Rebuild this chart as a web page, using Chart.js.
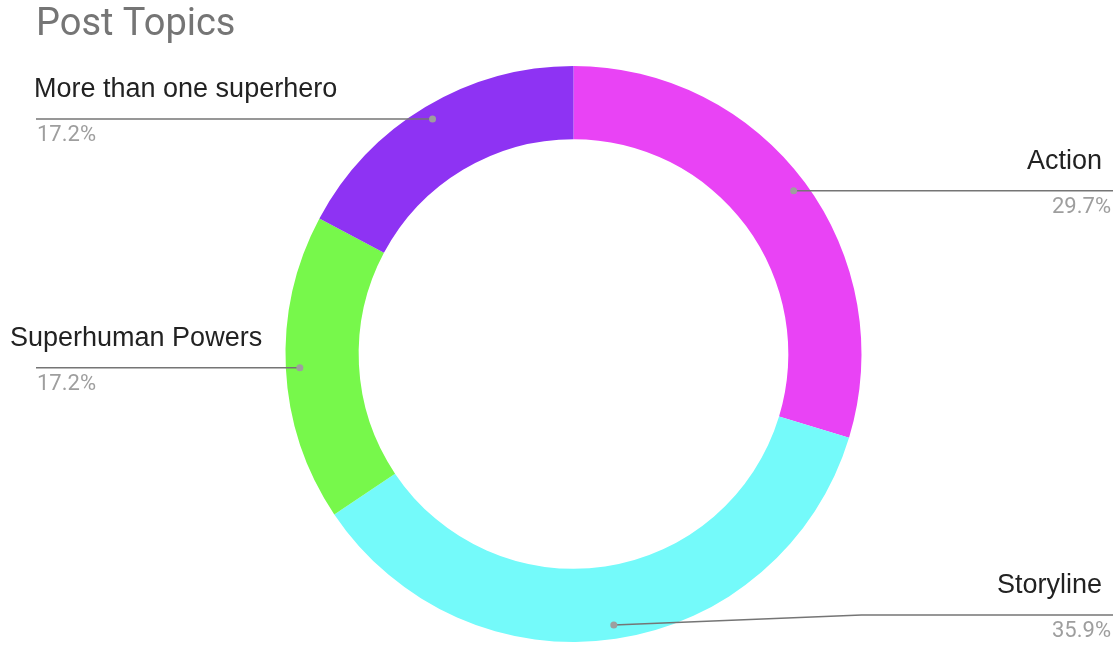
<!DOCTYPE html>
<html>
<head>
<meta charset="utf-8">
<script src="https://cdn.jsdelivr.net/npm/chart.js@4"></script>
<style>
  html, body { margin: 0; padding: 0; background: #fff; }
  #wrap { width: 1120px; height: 645px; position: relative; }
</style>
</head>
<body>
<div id="wrap"><canvas id="chartTopics"></canvas></div>
<script>
const chartTitle = "Post Topics";
const topics = ["Action", "Storyline", "Superhuman Powers", "More than one superhero"];
const shares = [29.7, 35.9, 17.2, 17.2];
const sliceColors = ["#e943f5", "#74fafa", "#77f84b", "#8e33f3"];

// Leader lines with label above and percentage below, like the sheets chart
const calloutPlugin = {
    id: "callouts",
    afterDraw(chart, args, opts) {
        const ctx = chart.ctx;
        const meta = chart.getDatasetMeta(0);
        const W = chart.width;
        const H = chart.height;

        ctx.save();
        // title
        ctx.font = "38px Roboto";
        ctx.fillStyle = "#757575";
        ctx.textAlign = "left";
        ctx.textBaseline = "alphabetic";
        ctx.fillText(chartTitle, 36, 35);

        meta.data.forEach(function (arc, i) {
            const p = arc.getProps(["x", "y", "startAngle", "endAngle", "outerRadius"], true);
            const mid = (p.startAngle + p.endAngle) / 2;
            const rd = p.outerRadius - 14;
            const dx = p.x + Math.cos(mid) * rd;
            const dy = p.y + Math.sin(mid) * rd;
            const right = Math.cos(mid) > 0;
            const lineY = Math.min(dy, H - 30);
            const bendX = right ? p.x + p.outerRadius : p.x - p.outerRadius;
            const endX = right ? W - 7 : 36;

            ctx.strokeStyle = "#757575";
            ctx.lineWidth = 1.5;
            ctx.beginPath();
            ctx.moveTo(dx, dy);
            if (lineY !== dy) ctx.lineTo(bendX, lineY);
            ctx.lineTo(endX, lineY);
            ctx.stroke();

            ctx.fillStyle = "#9e9e9e";
            ctx.beginPath();
            ctx.arc(dx, dy, 3.5, 0, Math.PI * 2);
            ctx.fill();

            const nudge = (opts.nudge && opts.nudge[i]) || 0;
            ctx.font = "27px 'Liberation Sans', Arial, sans-serif";
            ctx.fillStyle = "#222";
            ctx.textAlign = right ? "right" : "left";
            ctx.fillText(chart.data.labels[i], (right ? W - 18 : 34) + nudge, lineY - 22);

            ctx.font = "22px Roboto";
            ctx.fillStyle = "#9e9e9e";
            const v = chart.data.datasets[0].data[i];
            ctx.fillText(v.toFixed(1) + "%", right ? W - 9 : 37, lineY + 22);
        });
        ctx.restore();
    },
};

new Chart(document.getElementById("chartTopics"), {
    type: "doughnut",
    data: {
        labels: topics,
        datasets: [
            {
                data: shares,
                backgroundColor: sliceColors,
                borderWidth: 0,
            },
        ],
    },
    options: {
        responsive: true,
        maintainAspectRatio: false,
        animation: false,
        cutout: "74.6%",
        layout: { padding: { top: 66, bottom: 3, left: 285, right: 258 } },
        plugins: {
            legend: { display: false },
            tooltip: { enabled: false },
            callouts: { nudge: { 2: -24 } },
        },
    },
    plugins: [calloutPlugin],
});
</script>
</body>
</html>
